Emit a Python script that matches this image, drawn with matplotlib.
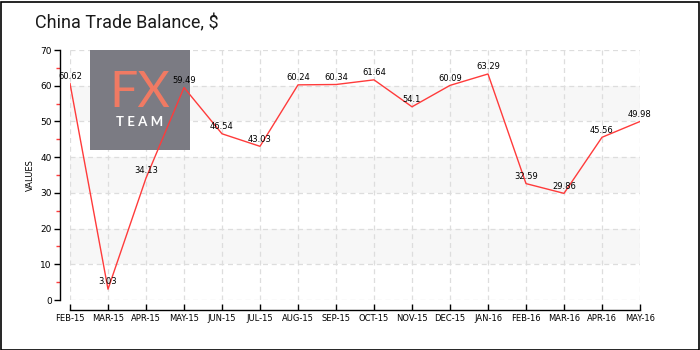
import matplotlib
matplotlib.use("Agg")
import matplotlib.pyplot as plt
from matplotlib.patches import Rectangle
from matplotlib.ticker import MultipleLocator

months = ["FEB-15", "MAR-15", "APR-15", "MAY-15", "JUN-15", "JUL-15", "AUG-15",
          "SEP-15", "OCT-15", "NOV-15", "DEC-15", "JAN-16", "FEB-16", "MAR-16",
          "APR-16", "MAY-16"]
values = [60.62, 3.03, 34.13, 59.49, 46.54, 43.03, 60.24, 60.34, 61.64, 54.1,
          60.09, 63.29, 32.59, 29.86, 45.56, 49.98]
y_ticks = [0, 10, 20, 30, 40, 50, 60, 70]

W, H = 700, 350
fig = plt.figure(figsize=(W / 100, H / 100), dpi=100)
fig.patch.set_facecolor("white")

# outer frame
fig.add_artist(Rectangle((0.5 / W, 0.5 / H), 1 - 2 / W, 1 - 2 / H,
                         transform=fig.transFigure, fill=False,
                         edgecolor="black", linewidth=1.2))

fig.text(35 / W, 1 - 23 / H, "China Trade Balance, $", fontsize=13,
         family="Roboto", va="center", ha="left", color="#1a1a1a")

ax = fig.add_axes([70 / W, 50 / H, 570 / W, 250 / H])
x = list(range(len(months)))
ax.set_xlim(0, len(months) - 1)
ax.set_ylim(0, 70)

# alternating bands
for lo in (10, 30, 50):
    ax.axhspan(lo, lo + 10, color="#f7f7f7", zorder=0, lw=0)

ax.grid(True, color="#dddddd", linestyle=(0, (4, 3)), linewidth=0.9, zorder=1)
ax.set_axisbelow(True)

# logo block
logo = Rectangle((90 / W, 1 - 150 / H), 100 / W, 100 / H,
                 transform=fig.transFigure, facecolor="#7b7b83",
                 edgecolor="none", zorder=2)
ax.add_artist(logo)
ax.text(140 / W, 1 - 93 / H, "FX", color="#f07a63", fontsize=36, ha="center",
        va="center", family="Lato", transform=fig.transFigure, zorder=2.1)
ax.text(140 / W, 1 - 122 / H, "T E A M", color="white", fontsize=9.5,
        ha="center", va="center", family="Lato", weight="bold",
        transform=fig.transFigure, zorder=2.1)

ax.plot(x, values, color="#ff3b3b", linewidth=1.0, zorder=3)
for xi, v in zip(x, values):
    ax.annotate(f"{v:g}", (xi, v), xytext=(0, 2), textcoords="offset points",
                ha="center", va="bottom", fontsize=6, color="black", zorder=4)

for side in ("top", "right"):
    ax.spines[side].set_visible(False)
ax.spines["left"].set_position(("outward", 7.2))
ax.spines["bottom"].set_position(("outward", 7.2))
ax.spines["left"].set_linewidth(1.0)
ax.spines["bottom"].set_linewidth(1.0)

ax.set_yticks(y_ticks)
ax.yaxis.set_minor_locator(MultipleLocator(5))
ax.tick_params(axis="y", which="major", direction="out", length=4, width=1,
               labelsize=6.5, pad=2)
ax.tick_params(axis="y", which="minor", direction="out", length=3, width=1,
               color="#ff3b3b")
ax.set_xticks(x)
ax.set_xticklabels(months)
ax.tick_params(axis="x", which="major", direction="in", length=4, width=1,
               labelsize=6, pad=3)
ax.set_ylabel("VALUES", fontsize=6, labelpad=4)

fig.savefig("out.png", dpi=100)
